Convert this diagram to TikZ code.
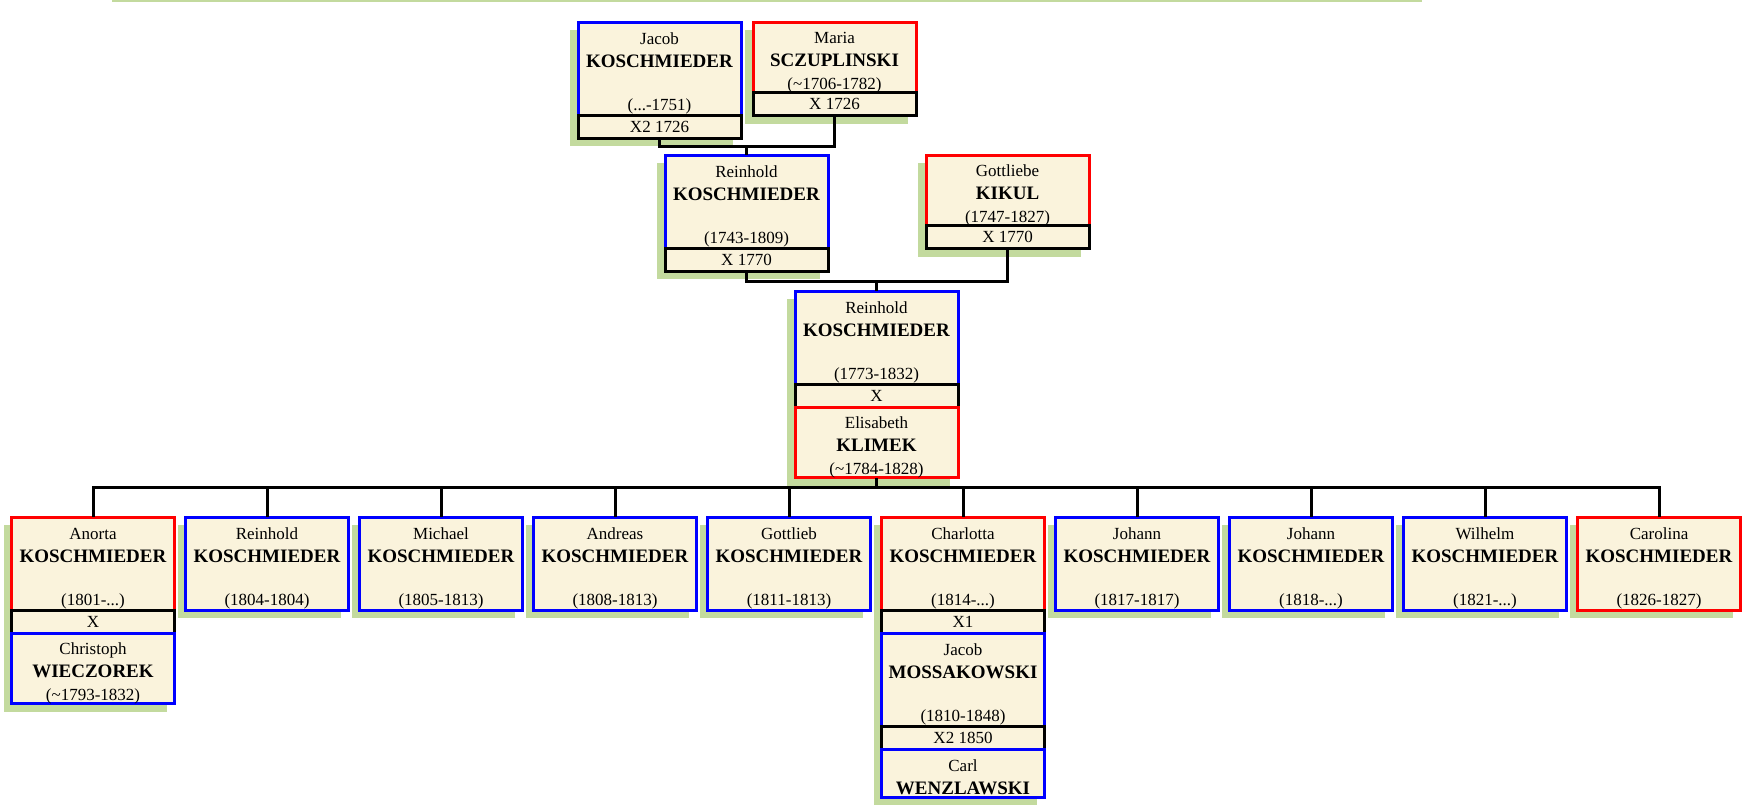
\documentclass[tikz,border=0pt]{standalone}
\usepackage{fontspec}
\setmainfont{Liberation Serif}
\usetikzlibrary{positioning,shadows}
\definecolor{boxfill}{RGB}{250,243,220}
\definecolor{shadowgreen}{RGB}{195,218,158}
\newcommand{\given}[1]{\rule{0pt}{10.5pt}#1}
\newcommand{\famname}[1]{\textbf{\fontsize{9.5}{11.5}\selectfont #1}}
\begin{document}
\begin{tikzpicture}[x=0.5pt,y=-0.5pt,card/.style={draw=#1,line width=1.5pt,fill=boxfill,minimum width=81.5pt,inner sep=0pt,outer sep=0pt,align=center,font=\fontsize{8.5}{11.5}\selectfont,drop shadow={shadow xshift=-4pt,shadow yshift=-4pt,fill=shadowgreen,opacity=1}},person/.style={card=#1},tall/.style={minimum height=46.5pt},short/.style={minimum height=34.5pt},wedding/.style={card=black,minimum height=11.5pt},link/.style={draw=black,line width=1.5pt}]
\useasboundingbox (0,0) rectangle (1745,810);
\draw[shadowgreen,line width=1pt] (112,1) -- (1422,1);
% grandparents
\node[person=blue,tall,anchor=north] (jacob) at (659.5,22) {\given{Jacob}\\\famname{KOSCHMIEDER}\\\mbox{}\\[-1.5pt](...-1751)};
\node[wedding,below=0pt of jacob] (jacobx) {X2 1726};
\node[person=red,short,anchor=north] (maria) at (834.5,22) {\given{Maria}\\\famname{SCZUPLINSKI}\\(\textasciitilde1706-1782)};
\node[wedding,below=0pt of maria] (mariax) {X 1726};
% parents
\node[person=blue,tall,anchor=north] (reinhA) at (746.5,155) {\given{Reinhold}\\\famname{KOSCHMIEDER}\\\mbox{}\\[-1.5pt](1743-1809)};
\node[wedding,below=0pt of reinhA] (reinhAx) {X 1770};
\node[person=red,short,anchor=north] (gottl) at (1007.5,155) {\given{Gottliebe}\\\famname{KIKUL}\\(1747-1827)};
\node[wedding,below=0pt of gottl] (gottlx) {X 1770};
% couple
\node[person=blue,tall,anchor=north] (reinhB) at (876.5,291) {\given{Reinhold}\\\famname{KOSCHMIEDER}\\\mbox{}\\[-1.5pt](1773-1832)};
\node[wedding,below=0pt of reinhB] (reinhBx) {X};
\node[person=red,short,below=0pt of reinhBx] (elis) {\given{Elisabeth}\\\famname{KLIMEK}\\(\textasciitilde1784-1828)};
% children
\foreach \i/\fn/\yr/\col in {0/Anorta/{(1801-...)}/red,1/Reinhold/{(1804-1804)}/blue,2/Michael/{(1805-1813)}/blue,3/Andreas/{(1808-1813)}/blue,4/Gottlieb/{(1811-1813)}/blue,5/Charlotta/{(1814-...)}/red,6/Johann/{(1817-1817)}/blue,7/Johann/{(1818-...)}/blue,8/Wilhelm/{(1821-...)}/blue,9/Carolina/{(1826-1827)}/red}
  \node[person=\col,tall,anchor=north] (c\i) at (93+174*\i,517) {\given{\fn}\\\famname{KOSCHMIEDER}\\\mbox{}\\[-1.5pt]\yr};
\node[wedding,below=0pt of c0] (c0x) {X};
\node[person=blue,short,below=0pt of c0x] (christoph) {\given{Christoph}\\\famname{WIECZOREK}\\(\textasciitilde1793-1832)};
\node[wedding,below=0pt of c5] (c5x) {X1};
\node[person=blue,tall,below=0pt of c5x] (jacobm) {\given{Jacob}\\\famname{MOSSAKOWSKI}\\\mbox{}\\[-1.5pt](1810-1848)};
\node[wedding,below=0pt of jacobm] (jacobmx) {X2 1850};
\node[person=blue,minimum height=24pt,below=0pt of jacobmx] (carl) {\given{Carl}\\\famname{WENZLAWSKI}};
% lines
\coordinate (g1) at (746.5,146);
\coordinate (g2) at (876.5,281);
\coordinate (g3) at (876.5,487);
\draw[link] (jacobx.south) |- (g1) -| (mariax.south); \draw[link] (g1) -- (reinhA.north);
\draw[link] (reinhAx.south) |- (g2) -| (gottlx.south); \draw[link] (g2) -- (reinhB.north);
\draw[link] (elis.south) -- (g3); \draw[link] (c0.north) |- (g3) -| (c9.north);
\foreach \i in {1,...,8} \draw[link] (c\i.north) -- (c\i.north |- g3);
\end{tikzpicture}
\end{document}
